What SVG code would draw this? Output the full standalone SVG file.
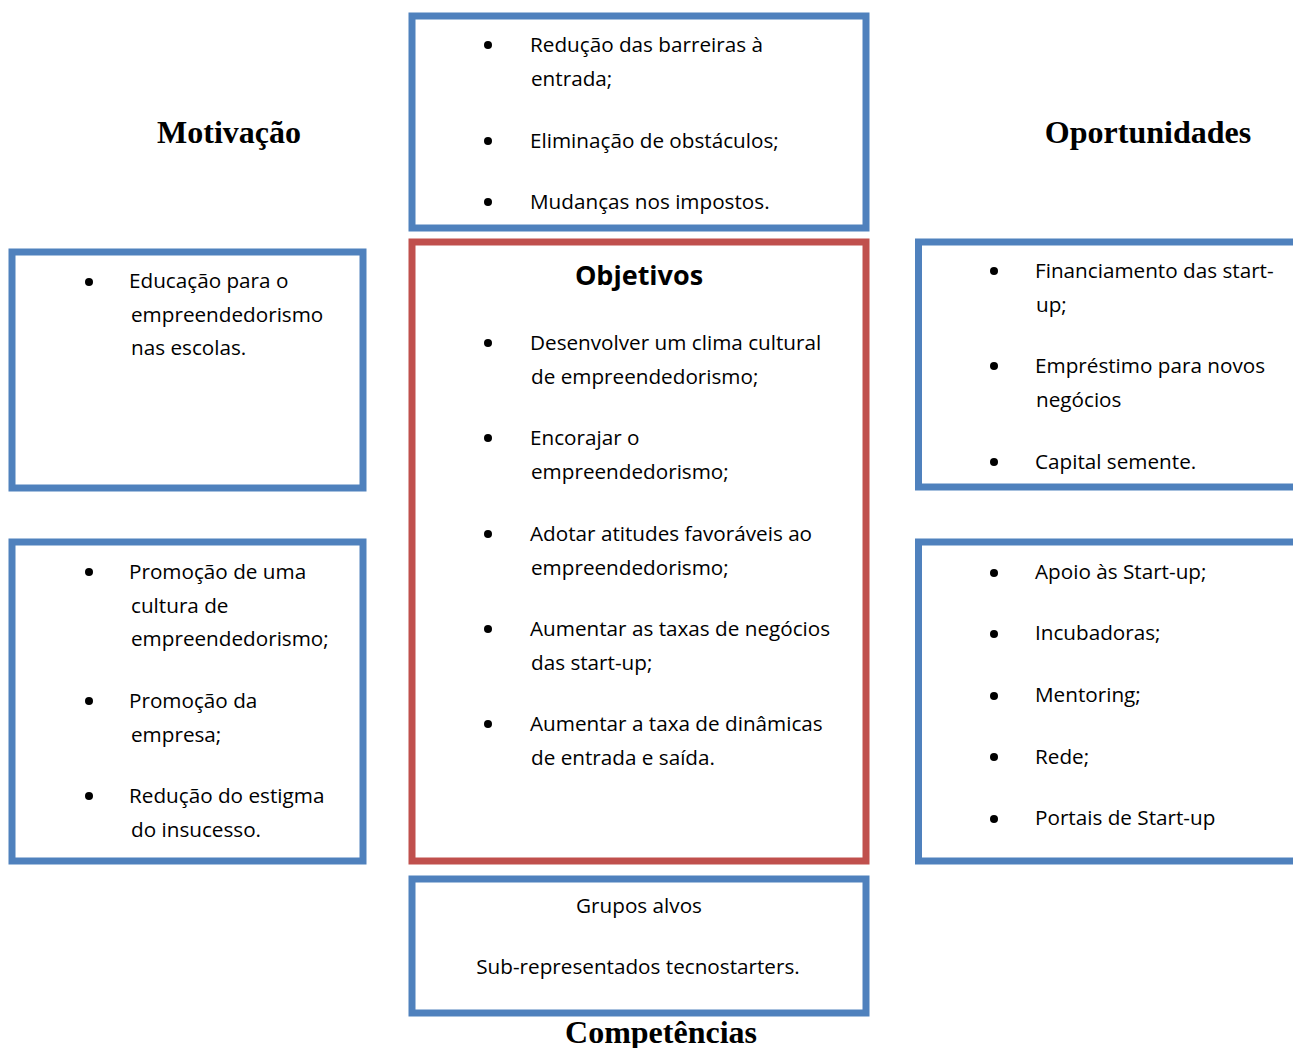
<svg xmlns="http://www.w3.org/2000/svg" width="1293" height="1048" viewBox="0 0 1293 1048">
  <style>
    .box { fill: #ffffff; stroke: #4F81BD; stroke-width: 7; }
    .box-red { fill: #ffffff; stroke: #C0504D; stroke-width: 7; }
    .txt { font-family: "Open Sans", "Liberation Sans", sans-serif; font-size: 20.7px; fill: #000000; }
    .ctr { text-anchor: middle; }
    .ttl { font-family: "Open Sans", "Liberation Sans", sans-serif; font-size: 27px; font-weight: bold; fill: #000000; text-anchor: middle; }
    .hdr { font-family: "Liberation Serif", "Times New Roman", serif; font-size: 32px; font-weight: bold; fill: #000000; text-anchor: middle; }
    .dot { fill: #000000; }
  </style>

  <rect width="1293" height="1048" fill="#ffffff"/>

  <!-- Section headings -->
  <g id="headings">
    <text class="hdr" x="229" y="143">Motivação</text>
    <text class="hdr" x="1148" y="143">Oportunidades</text>
    <text class="hdr" x="661" y="1043">Competências</text>
  </g>

  <!-- Barriers (top centre) -->
  <g id="node-barreiras">
    <rect class="box" x="412" y="16" width="454" height="212"/>
    <circle class="dot" cx="488" cy="45" r="4"/>
    <text class="txt" x="530" y="52">Redução das barreiras à</text>
    <text class="txt" x="531" y="86">entrada;</text>
    <circle class="dot" cx="488" cy="141" r="4"/>
    <text class="txt" x="530" y="148">Eliminação de obstáculos;</text>
    <circle class="dot" cx="488" cy="202" r="4"/>
    <text class="txt" x="530" y="209">Mudanças nos impostos.</text>
  </g>

  <!-- Objectives (centre) -->
  <g id="node-objetivos">
    <rect class="box-red" x="412" y="242" width="454" height="619"/>
    <text class="ttl" x="639" y="285">Objetivos</text>
    <circle class="dot" cx="488" cy="343" r="4"/>
    <text class="txt" x="530" y="350">Desenvolver um clima cultural</text>
    <text class="txt" x="531" y="384">de empreendedorismo;</text>
    <circle class="dot" cx="488" cy="438" r="4"/>
    <text class="txt" x="530" y="445">Encorajar o</text>
    <text class="txt" x="531" y="479">empreendedorismo;</text>
    <circle class="dot" cx="488" cy="534" r="4"/>
    <text class="txt" x="530" y="541">Adotar atitudes favoráveis ao</text>
    <text class="txt" x="531" y="575">empreendedorismo;</text>
    <circle class="dot" cx="488" cy="629" r="4"/>
    <text class="txt" x="530" y="636">Aumentar as taxas de negócios</text>
    <text class="txt" x="531" y="670">das start-up;</text>
    <circle class="dot" cx="488" cy="724" r="4"/>
    <text class="txt" x="530" y="731">Aumentar a taxa de dinâmicas</text>
    <text class="txt" x="531" y="765">de entrada e saída.</text>
  </g>

  <!-- Target groups (bottom centre) -->
  <g id="node-grupos">
    <rect class="box" x="412" y="879" width="454" height="134"/>
    <text class="txt ctr" x="639" y="913">Grupos alvos</text>
    <text class="txt ctr" x="638" y="974">Sub-representados tecnostarters.</text>
  </g>

  <!-- Motivation: education -->
  <g id="node-educacao">
    <rect class="box" x="12" y="252" width="351" height="236"/>
    <circle class="dot" cx="89" cy="282" r="4"/>
    <text class="txt" x="129" y="288">Educação para o</text>
    <text class="txt" x="131" y="322">empreendedorismo</text>
    <text class="txt" x="131" y="355">nas escolas.</text>
  </g>

  <!-- Motivation: promotion -->
  <g id="node-promocao">
    <rect class="box" x="12" y="542" width="351" height="319"/>
    <circle class="dot" cx="89" cy="572" r="4"/>
    <text class="txt" x="129" y="579">Promoção de uma</text>
    <text class="txt" x="131" y="613">cultura de</text>
    <text class="txt" x="131" y="646">empreendedorismo;</text>
    <circle class="dot" cx="89" cy="701" r="4"/>
    <text class="txt" x="129" y="708">Promoção da</text>
    <text class="txt" x="131" y="742">empresa;</text>
    <circle class="dot" cx="89" cy="796" r="4"/>
    <text class="txt" x="129" y="803">Redução do estigma</text>
    <text class="txt" x="131" y="837">do insucesso.</text>
  </g>

  <!-- Opportunities: funding -->
  <g id="node-financiamento">
    <rect class="box" x="918.5" y="242" width="400" height="245"/>
    <circle class="dot" cx="994" cy="271" r="4"/>
    <text class="txt" x="1035" y="278">Financiamento das start-</text>
    <text class="txt" x="1036" y="312">up;</text>
    <circle class="dot" cx="994" cy="366" r="4"/>
    <text class="txt" x="1035" y="373">Empréstimo para novos</text>
    <text class="txt" x="1036" y="407">negócios</text>
    <circle class="dot" cx="994" cy="462" r="4"/>
    <text class="txt" x="1035" y="469">Capital semente.</text>
  </g>

  <!-- Opportunities: support -->
  <g id="node-apoio">
    <rect class="box" x="918.5" y="542" width="400" height="319"/>
    <circle class="dot" cx="994" cy="573" r="4"/>
    <text class="txt" x="1035" y="579">Apoio às Start-up;</text>
    <circle class="dot" cx="994" cy="634" r="4"/>
    <text class="txt" x="1035" y="640">Incubadoras;</text>
    <circle class="dot" cx="994" cy="696" r="4"/>
    <text class="txt" x="1035" y="702">Mentoring;</text>
    <circle class="dot" cx="994" cy="757" r="4"/>
    <text class="txt" x="1035" y="764">Rede;</text>
    <circle class="dot" cx="994" cy="819" r="4"/>
    <text class="txt" x="1035" y="825">Portais de Start-up</text>
  </g>

  <!-- No connectors in this layout -->
  <g id="connectors"/>
</svg>
